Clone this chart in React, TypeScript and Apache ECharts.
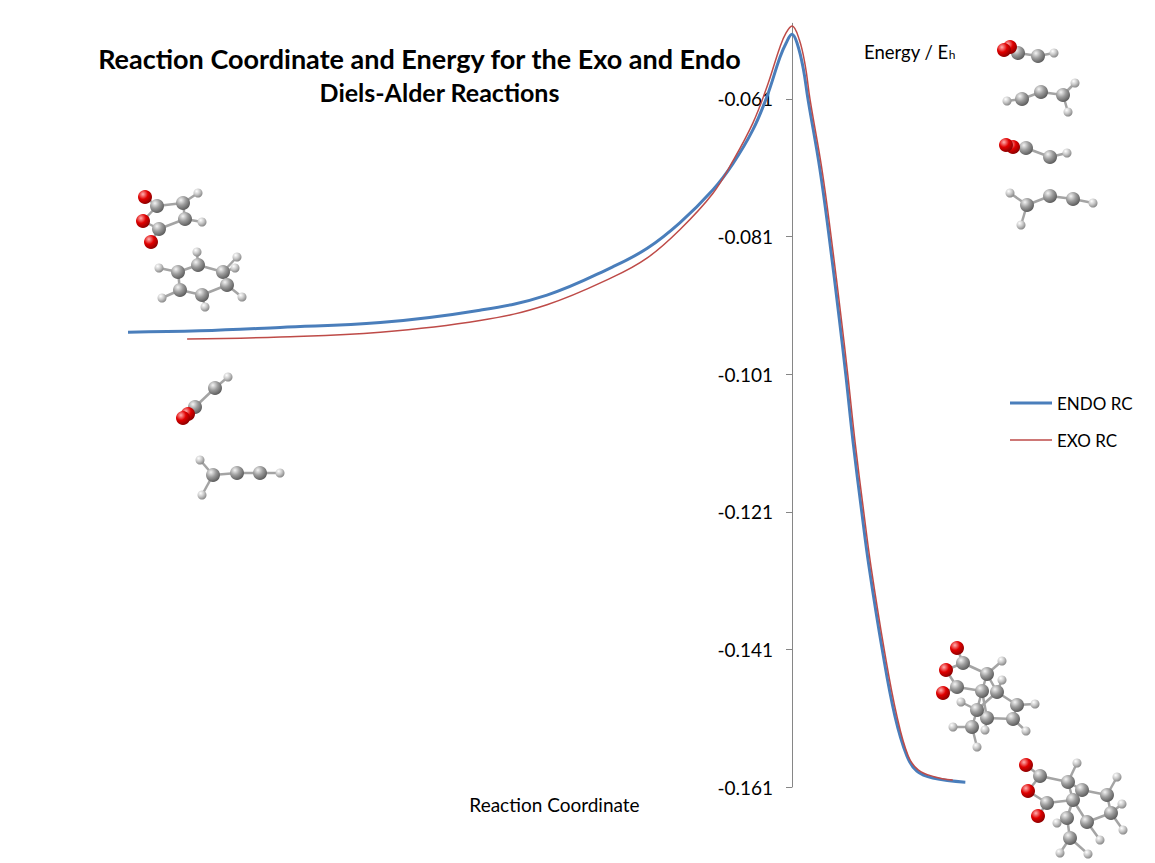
import React, { useEffect, useRef } from 'react';
import * as echarts from 'echarts';

// reaction coordinate (arbitrary units, TS at 0) and energy in hartree
const endoX = [-10.0, -8.92, -7.71, -6.2, -4.7, -3.69, -2.7, -2.18, -1.69, -1.19, -0.89, -0.59, -0.38, -0.18, -0.09, 0, 0.08, 0.17, 0.24, 0.42, 0.56, 0.71, 0.81, 0.92, 1.05, 1.16, 1.36, 1.55, 1.73, 1.88, 2.12, 2.61];
const endoE = [-0.0949, -0.0947, -0.0942, -0.0935, -0.0917, -0.0895, -0.0854, -0.0827, -0.079, -0.0742, -0.0704, -0.0655, -0.0607, -0.0549, -0.0529, -0.0516, -0.053, -0.0566, -0.061, -0.0712, -0.0811, -0.0928, -0.1011, -0.1109, -0.121, -0.129, -0.1411, -0.1507, -0.1565, -0.1587, -0.1597, -0.1603];

const exoX = [-9.11, -7.71, -6.2, -4.7, -3.69, -2.7, -2.18, -1.69, -1.19, -0.89, -0.59, -0.38, -0.18, -0.09, 0, 0.11, 0.2, 0.27, 0.45, 0.59, 0.74, 0.84, 0.95, 1.08, 1.19, 1.39, 1.58, 1.75, 1.9, 2.14, 2.42];
const exoE = [-0.0959, -0.0956, -0.0949, -0.0932, -0.0909, -0.0869, -0.0841, -0.08, -0.0747, -0.07, -0.0645, -0.0593, -0.0534, -0.0514, -0.0504, -0.0524, -0.0562, -0.061, -0.0712, -0.0811, -0.0928, -0.1011, -0.1109, -0.121, -0.129, -0.1411, -0.1507, -0.1565, -0.1585, -0.1595, -0.16];

const seriesNames = ['ENDO RC', 'EXO RC'];
const seriesColors = ['#4A7EBB', '#BE4B48'];
const seriesWidths = [3, 1.5];
const yMin = -0.161;
const yMax = -0.05;
const yStep = 0.02;

const FONT = 'Lato, "Open Sans", sans-serif';

// ball-and-stick pictures of the molecules
type Atom = [number, number, 'O' | 'C' | 'H'];
type Molecule = { atoms: Atom[]; bonds: [number, number][] };

const molecules: Molecule[] = [
  {
    atoms: [[145, 197, 'O'], [157, 206, 'C'], [143, 221, 'O'], [159, 229, 'C'], [151, 242, 'O'], [183, 203, 'C'], [185, 219, 'C'], [198, 193, 'H'], [202, 222, 'H']],
    bonds: [[0, 1], [1, 2], [2, 3], [3, 4], [1, 5], [3, 6], [5, 6], [5, 7], [6, 8]],
  },
  {
    atoms: [[159, 268, 'H'], [197, 252, 'H'], [237, 257, 'H'], [235, 268, 'H'], [242, 297, 'H'], [205, 307, 'H'], [162, 298, 'H'],
      [178, 272, 'C'], [198, 265, 'C'], [223, 272, 'C'], [227, 285, 'C'], [202, 295, 'C'], [180, 290, 'C']],
    bonds: [[7, 8], [8, 9], [9, 10], [10, 11], [11, 12], [12, 7], [7, 0], [8, 1], [9, 2], [9, 3], [10, 4], [11, 5], [12, 6]],
  },
  {
    atoms: [[228, 377, 'H'], [215, 388, 'C'], [195, 407, 'C'], [188, 414, 'O'], [183, 418, 'O']],
    bonds: [[0, 1], [1, 2], [2, 3]],
  },
  {
    atoms: [[200, 460, 'H'], [202, 495, 'H'], [280, 473, 'H'], [213, 475, 'C'], [237, 473, 'C'], [260, 473, 'C']],
    bonds: [[0, 3], [1, 3], [3, 4], [4, 5], [5, 2]],
  },
  {
    atoms: [[1054, 53, 'H'], [1038, 56, 'C'], [1018, 53, 'C'], [1010, 47, 'O'], [1004, 50, 'O']],
    bonds: [[0, 1], [1, 2], [2, 3]],
  },
  {
    atoms: [[1007, 101, 'H'], [1075, 83, 'H'], [1068, 112, 'H'], [1022, 99, 'C'], [1041, 92, 'C'], [1063, 95, 'C']],
    bonds: [[0, 3], [3, 4], [4, 5], [5, 1], [5, 2]],
  },
  {
    atoms: [[1067, 153, 'H'], [1050, 157, 'C'], [1026, 148, 'C'], [1013, 147, 'O'], [1006, 145, 'O']],
    bonds: [[0, 1], [1, 2], [2, 3]],
  },
  {
    atoms: [[1010, 193, 'H'], [1021, 225, 'H'], [1093, 203, 'H'], [1027, 205, 'C'], [1050, 196, 'C'], [1073, 199, 'C']],
    bonds: [[0, 3], [1, 3], [3, 4], [4, 5], [5, 2]],
  },
  {
    atoms: [[1002, 661, 'H'], [1002, 680, 'H'], [1035, 704, 'H'], [1026, 731, 'H'], [961, 702, 'H'], [953, 727, 'H'], [977, 747, 'H'], [985, 730, 'H'],
      [1017, 705, 'C'], [1013, 719, 'C'], [987, 718, 'C'], [972, 727, 'C'], [977, 710, 'C'], [997, 692, 'C'], [982, 691, 'C'], [987, 674, 'C'],
      [963, 663, 'C'], [957, 687, 'C'], [957, 648, 'O'], [946, 670, 'O'], [943, 693, 'O']],
    bonds: [[18, 16], [16, 19], [19, 17], [17, 20], [16, 15], [17, 14], [15, 14], [15, 0], [15, 13], [13, 1], [13, 8], [8, 2], [8, 9], [9, 3], [9, 10],
      [10, 14], [10, 7], [14, 12], [12, 4], [12, 11], [11, 5], [11, 6], [13, 12]],
  },
  {
    atoms: [[1077, 763, 'H'], [1117, 777, 'H'], [1122, 804, 'H'], [1123, 830, 'H'], [1057, 823, 'H'], [1060, 853, 'H'], [1088, 854, 'H'], [1100, 840, 'H'],
      [1107, 795, 'C'], [1111, 813, 'C'], [1087, 822, 'C'], [1067, 818, 'C'], [1070, 838, 'C'], [1082, 790, 'C'], [1073, 800, 'C'], [1068, 782, 'C'],
      [1040, 776, 'C'], [1047, 803, 'C'], [1026, 765, 'O'], [1028, 791, 'O'], [1038, 816, 'O']],
    bonds: [[18, 16], [16, 19], [19, 17], [17, 20], [16, 15], [17, 14], [15, 14], [15, 0], [15, 13], [13, 8], [8, 1], [8, 9], [9, 2], [9, 3], [9, 10],
      [10, 14], [10, 7], [14, 11], [11, 4], [11, 12], [12, 5], [12, 6]],
  },
];

const atomLook: Record<string, { r: number; c: [string, string, string] }> = {
  O: { r: 7, c: ['#ffb0b0', '#e00000', '#7a0000'] },
  C: { r: 7, c: ['#f4f4f4', '#9c9c9c', '#4e4e4e'] },
  H: { r: 4.5, c: ['#ffffff', '#cacaca', '#7a7a7a'] },
};

function moleculeGraphics() {
  const out: any[] = [];
  molecules.forEach((m) => {
    m.bonds.forEach(([a, b]) => {
      out.push({
        type: 'line',
        silent: true,
        shape: { x1: m.atoms[a][0], y1: m.atoms[a][1], x2: m.atoms[b][0], y2: m.atoms[b][1] },
        style: { stroke: '#a4a4a4', lineWidth: 2.5 },
      });
    });
    m.atoms.forEach(([x, y, el]) => {
      const look = atomLook[el];
      out.push({
        type: 'circle',
        silent: true,
        shape: { cx: x, cy: y, r: look.r },
        style: {
          fill: new echarts.graphic.RadialGradient(0.35, 0.3, 0.8, [
            { offset: 0, color: look.c[0] },
            { offset: 0.45, color: look.c[1] },
            { offset: 1, color: look.c[2] },
          ]),
        },
      });
    });
  });
  return out;
}

// legend drawn by hand: plain line samples without symbols
function legendGraphics() {
  const out: any[] = [];
  seriesNames.forEach((name, i) => {
    const y = 403 + i * 37;
    out.push({
      type: 'line',
      silent: true,
      shape: { x1: 1010, y1: y, x2: 1052, y2: y },
      style: { stroke: seriesColors[i], lineWidth: seriesWidths[i] },
    });
    out.push({
      type: 'text',
      x: 1057,
      y,
      style: { text: name, verticalAlign: 'middle', font: `17px ${FONT}`, fill: '#000' },
    });
  });
  return out;
}

const App: React.FC = () => {
  const chartRef = useRef<HTMLDivElement | null>(null);

  useEffect(() => {
    if (!chartRef.current) return;
    const chart = echarts.init(chartRef.current, undefined, { renderer: 'svg' });

    const option = {
      animation: false,
      backgroundColor: '#ffffff',
      grid: { left: 128, right: 189, top: 23.3, bottom: 76, containLabel: false },
      xAxis: {
        type: 'value',
        min: -10,
        max: 2.62,
        axisLine: { show: false },
        axisTick: { show: false },
        axisLabel: { show: false },
        splitLine: { show: false },
      },
      yAxis: {
        type: 'value',
        min: yMin,
        max: yMax,
        interval: yStep,
        // move the axis from the grid's left edge to the transition state (x = 0)
        offset: -664,
        axisLine: { show: true, onZero: false, lineStyle: { color: '#868686', width: 1 } },
        axisTick: { show: true, length: 6, lineStyle: { color: '#868686' } },
        axisLabel: {
          showMaxLabel: false,
          margin: 19,
          fontFamily: FONT,
          fontSize: 19,
          color: '#000',
          formatter: (v: number) => v.toFixed(3),
        },
        splitLine: { show: false },
      },
      series: [
        {
          name: seriesNames[0],
          type: 'line',
          data: endoX.map((x, i) => [x, endoE[i]]),
          symbol: 'none',
          smooth: 0.4,
          clip: false,
          lineStyle: { color: seriesColors[0], width: seriesWidths[0] },
          itemStyle: { color: seriesColors[0] },
        },
        {
          name: seriesNames[1],
          type: 'line',
          data: exoX.map((x, i) => [x, exoE[i]]),
          symbol: 'none',
          smooth: 0.4,
          clip: false,
          lineStyle: { color: seriesColors[1], width: seriesWidths[1] },
          itemStyle: { color: seriesColors[1] },
        },
      ],
      graphic: [
        {
          type: 'text',
          x: 419.5,
          y: 58,
          style: {
            text: 'Reaction Coordinate and Energy for the Exo and Endo',
            align: 'center',
            verticalAlign: 'middle',
            font: `bold 27px ${FONT}`,
            fill: '#000',
          },
        },
        {
          type: 'text',
          x: 439.5,
          y: 92,
          style: {
            text: 'Diels-Alder Reactions',
            align: 'center',
            verticalAlign: 'middle',
            font: `bold 25px ${FONT}`,
            fill: '#000',
          },
        },
        {
          type: 'text',
          x: 554.5,
          y: 804,
          style: {
            text: 'Reaction Coordinate',
            align: 'center',
            verticalAlign: 'middle',
            font: `19px ${FONT}`,
            fill: '#000',
          },
        },
        {
          type: 'text',
          x: 864,
          y: 50,
          style: {
            text: '{a|Energy / E}{b|h}',
            verticalAlign: 'middle',
            rich: {
              a: { fontFamily: FONT, fontSize: 18.5, color: '#000', lineHeight: 22, verticalAlign: 'bottom' },
              b: { fontFamily: FONT, fontSize: 12, color: '#000', lineHeight: 22, verticalAlign: 'bottom', padding: [0, 0, 1, 0] },
            },
          },
        },
        ...legendGraphics(),
        ...moleculeGraphics(),
      ],
    };

    chart.setOption(option);
    return () => {
      chart.dispose();
    };
  }, []);

  return <div ref={chartRef} style={{ position: 'fixed', left: 0, top: 0, width: '1155px', height: '863px' }} />;
};

export default App;
